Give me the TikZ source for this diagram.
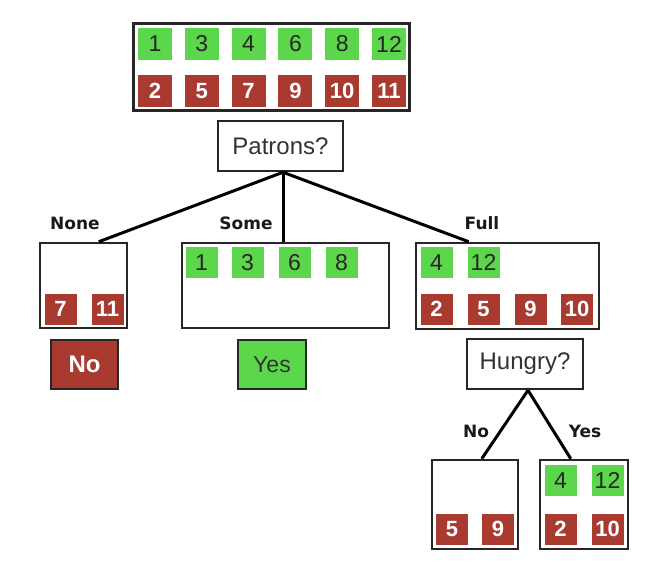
\documentclass[tikz,border=0pt]{standalone}
\usepackage{fontspec}
\setmainfont{Liberation Sans}
\newfontfamily\lblfont{DejaVu Sans}
\definecolor{gr}{RGB}{92,214,75}
\definecolor{rd}{RGB}{168,58,48}
\tikzset{
  sq/.style={rectangle, inner sep=0pt, minimum width=32pt, minimum height=31pt},
  gsq/.style={sq, fill=gr, text=black!85, font=\fontsize{23}{23}\selectfont},
  rsq/.style={sq, fill=rd, text=white, font=\bfseries\fontsize{22}{22}\selectfont},
  box/.style={draw=black!85, line width=2.5pt, inner sep=0pt, fill=white},
  qbox/.style={box, text=black!80, font=\fontsize{24}{24}\selectfont},
  edge/.style={line width=3pt, black},
  lbl/.style={font=\lblfont\bfseries\fontsize{17}{17}\selectfont, text=black!90},
}
\begin{document}
\begin{tikzpicture}[x=1pt, y=-1pt]
\useasboundingbox (0,0) rectangle (648,570);
% boxes
\node[box, line width=3pt, minimum width=276pt, minimum height=87pt] (top) at (271,66.5) {};
\node[qbox, minimum width=125pt, minimum height=50pt] (patrons) at (280.5,146) {Patrons?};
\node[box, minimum width=87pt, minimum height=85pt] (none) at (83.5,285.5) {};
\node[box, minimum width=207pt, minimum height=85pt] (some) at (285.5,285.5) {};
\node[box, minimum width=183pt, minimum height=86pt] (full) at (507.5,286) {};
\node[box, fill=rd, text=white, font=\bfseries\fontsize{24}{24}\selectfont, minimum width=67pt, minimum height=49pt] (no) at (84.5,364.5) {No};
\node[box, fill=gr, text=black!80, font=\fontsize{23}{23}\selectfont, minimum width=68pt, minimum height=49pt] (yes) at (272,364.5) {Yes};
\node[qbox, minimum width=116pt, minimum height=50pt] (hungry) at (525,364) {Hungry?};
\node[box, minimum width=86pt, minimum height=89pt] (hno) at (475,504.5) {};
\node[box, minimum width=88pt, minimum height=89pt] (hyes) at (584,504.5) {};
% top squares
\foreach \n [count=\i from 0] in {1,3,4,6,8,12}
  \node[gsq, minimum width=34pt, minimum height=32pt] (tg\i) at (155+46.8*\i,44) {\n};
\foreach \n [count=\i from 0] in {2,5,7,9,10,11}
  \node[rsq, minimum width=34pt, minimum height=32pt] (tr\i) at (155+46.8*\i,91) {\n};
% none
\node[rsq] (n7) at (60.5,309) {7};
\node[rsq] (n11) at (107.5,309) {11};
% some
\node[gsq] (s1) at (201.5,262.5) {1};
\node[gsq] (s3) at (247.5,262.5) {3};
\node[gsq] (s6) at (294.5,262.5) {6};
\node[gsq] (s8) at (341.5,262.5) {8};
% full
\node[gsq] (f4) at (436.5,262.5) {4};
\node[gsq] (f12) at (483.5,262.5) {12};
\node[rsq] (f2) at (436.5,309) {2};
\node[rsq] (f5) at (483.5,309) {5};
\node[rsq] (f9) at (530.5,309) {9};
\node[rsq] (f10) at (577,309) {10};
% hungry no
\node[rsq] (hn5) at (452,529) {5};
\node[rsq] (hn9) at (498,529) {9};
% hungry yes
\node[gsq] (hy4) at (560.5,480.5) {4};
\node[gsq] (hy12) at (607.5,480.5) {12};
\node[rsq] (hy2) at (560.5,529) {2};
\node[rsq] (hy10) at (607.5,529) {10};
% connectors
\coordinate (pap) at ([xshift=2.5pt]patrons.south);
\draw[edge] (pap) -- ([xshift=60pt]none.north west);
\draw[edge] (pap) -- (pap |- some.north);
\draw[edge] (pap) -- ([xshift=54pt]full.north west);
\coordinate (hap) at ([xshift=3pt]hungry.south);
\draw[edge] (hap) -- ([xshift=51pt]hno.north west);
\draw[edge] (hap) -- ([xshift=32pt]hyes.north west);
% labels
\node[lbl] (lnone) at (75,223) {None};
\node[lbl] (lsome) at (246,223) {Some};
\node[lbl] (lfull) at (482,223) {Full};
\node[lbl] (lno) at (476,431) {No};
\node[lbl] (lyes) at (585,431) {Yes};
\end{tikzpicture}
\end{document}
